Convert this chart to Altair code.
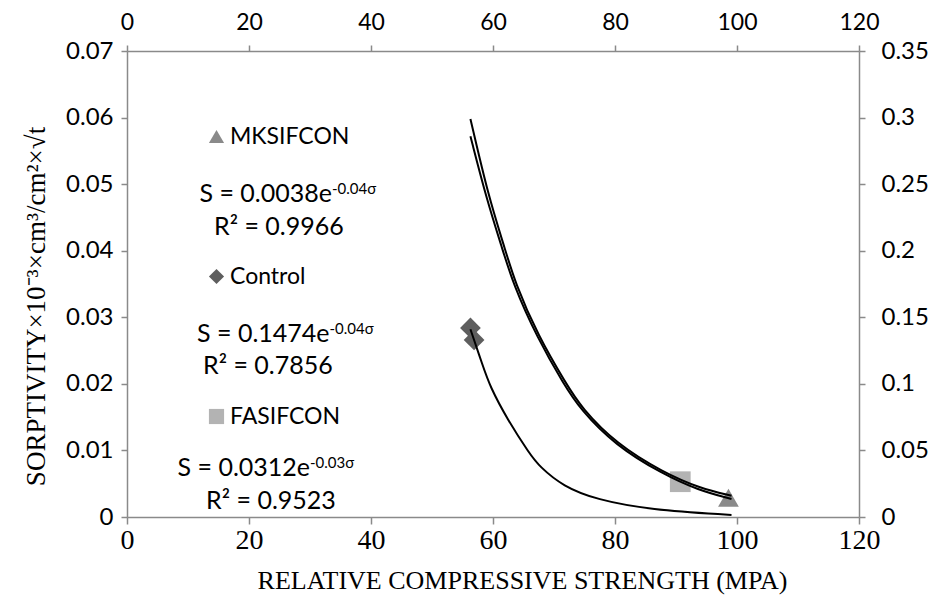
import altair as alt
import pandas as pd

# ---------------- data ----------------
series = ["MKSIFCON", "Control", "FASIFCON"]
series_colors = ["#8a8a8a", "#5e5e5e", "#b3b3b3"]
series_shapes = ["triangle-up", "diamond", "square"]

point_series = ["Control", "Control", "FASIFCON", "MKSIFCON"]
point_x = [56.3, 56.9, 90.7, 98.6]
point_y = [0.0284, 0.0266, 0.0053, 0.0029]

# fitted trend curves
curve1_x = [56.3, 59.3, 61.8, 63.6, 67.4, 72.0, 74.5, 80.2, 87.9, 94.0, 99.1]
curve1_y = [0.0598, 0.0480, 0.0408, 0.0352, 0.0272, 0.0200, 0.0164, 0.0110, 0.0067, 0.0043, 0.0032]
curve2_x = [56.3, 59.0, 61.5, 63.3, 67.2, 71.7, 74.3, 80.0, 87.7, 93.7, 99.1]
curve2_y = [0.0572, 0.0476, 0.0404, 0.0350, 0.0270, 0.0198, 0.0162, 0.0108, 0.0065, 0.0040, 0.0027]
curve3_x = [56.3, 58.3, 59.5, 62.4, 66.0, 67.6, 71.5, 77.0, 85.7, 99.1]
curve3_y = [0.0282, 0.0228, 0.0196, 0.0146, 0.0095, 0.0076, 0.0046, 0.0026, 0.0011, 0.0003]

# trendline equations
eq_main = ["S = 0.0038e", "S = 0.1474e", "S = 0.0312e"]
eq_sup = ["-0.04σ", "-0.04σ", "-0.03σ"]
r2_text = ["R² = 0.9966", "R² = 0.7856", "R² = 0.9523"]
eq_x = [33.6, 33.2, 30.0]
eq_y = [0.0485, 0.0275, 0.0074]
r2_x = [24.9, 23.1, 23.6]
r2_y = [0.0436, 0.0227, 0.0024]

x_ticks = [0, 20, 40, 60, 80, 100, 120]
y_ticks = [0, 0.01, 0.02, 0.03, 0.04, 0.05, 0.06, 0.07]
y2_ticks = [0, 0.05, 0.1, 0.15, 0.2, 0.25, 0.3, 0.35]

# ---------------- tables ----------------
pts = pd.DataFrame({"series": point_series, "x": point_x, "y": point_y})
curves = pd.concat([
    pd.DataFrame({"curve": "c1", "x": curve1_x, "y": curve1_y}),
    pd.DataFrame({"curve": "c2", "x": curve2_x, "y": curve2_y}),
    pd.DataFrame({"curve": "c3", "x": curve3_x, "y": curve3_y}),
])
eqs = pd.DataFrame({"main": eq_main, "sup": eq_sup, "x": eq_x, "y": eq_y})
r2s = pd.DataFrame({"t": r2_text, "x": r2_x, "y": r2_y})

W, H = 732, 466
AX = "#8a8a8a"
SANS = "Lato"
SERIF = "Liberation Serif"

x_scale = alt.Scale(domain=[0, 120], nice=False, zero=False)
y_scale = alt.Scale(domain=[0, 0.07], nice=False, zero=False)

x_axis = alt.Axis(values=x_ticks, title="RELATIVE COMPRESSIVE STRENGTH (MPA)",
                  labelFont=SERIF, labelFontSize=28, labelColor="black",
                  titleFont=SERIF, titleFontSize=26, titleFontWeight="normal", titleColor="black",
                  titleX=395,
                  domainColor=AX, domainWidth=1.5, tickColor=AX, tickWidth=1.5, tickSize=7,
                  labelPadding=2, titlePadding=13, grid=False, labelFlush=False, labelOverlap=False)
y_axis = alt.Axis(values=y_ticks, format=".2~f", title="SORPTIVITY×10⁻³×cm³/cm²×√t",
                  labelFont=SANS, labelFontSize=24, labelColor="black",
                  titleFont=SERIF, titleFontSize=27, titleFontWeight="normal", titleColor="black",
                  titleY=255,
                  domainColor=AX, domainWidth=1.5, tickColor=AX, tickWidth=1.5, tickSize=6,
                  labelPadding=8, titlePadding=15, grid=False, labelFlush=False, labelOverlap=False)

X = alt.X("x:Q", scale=x_scale, axis=x_axis)
Y = alt.Y("y:Q", scale=y_scale, axis=y_axis)

legend = alt.Legend(orient="none", legendX=78, legendY=74, title=None, direction="vertical",
                    labelFont=SANS, labelFontSize=23, labelColor="black", symbolSize=230,
                    symbolStrokeWidth=0, symbolOpacity=1, rowPadding=116, labelOffset=2,
                    padding=0)

points = alt.Chart(pts).mark_point(filled=True, opacity=1, size=430).encode(
    x=X, y=Y,
    color=alt.Color("series:N", scale=alt.Scale(domain=series, range=series_colors), legend=legend),
    shape=alt.Shape("series:N", scale=alt.Scale(domain=series, range=series_shapes), legend=legend),
)

lines = alt.Chart(curves).mark_line(color="black", strokeWidth=2, interpolate="basis").encode(
    x=X, y=Y, detail="curve:N")

eq_text = alt.Chart(eqs).mark_text(align="right", baseline="middle", font=SANS, fontSize=25,
                                   color="black").encode(x=X, y=Y, text="main:N")
sup_text = alt.Chart(eqs).mark_text(align="left", baseline="middle", font=SANS, fontSize=15,
                                    dy=-5, color="black").encode(x=X, y=Y, text="sup:N")
r2_layer = alt.Chart(r2s).mark_text(align="center", baseline="middle", font=SANS, fontSize=25,
                                    color="black").encode(x=X, y=Y, text="t:N")

main = alt.layer(points, lines, eq_text, sup_text, r2_layer)

sec = pd.DataFrame({"x": [0, 120], "y": [0, 0.35]})
axes2 = alt.Chart(sec).mark_point(opacity=0).encode(
    x=alt.X("x:Q", scale=alt.Scale(domain=[0, 120], nice=False, zero=False),
            axis=alt.Axis(orient="top", values=x_ticks, title=None, labelFont=SANS, labelFontSize=23,
                          labelColor="black", domainColor=AX, domainWidth=1.5, tickColor=AX,
                          tickWidth=1.5, tickSize=6, labelPadding=11, grid=False,
                          labelFlush=False, labelOverlap=False)),
    y=alt.Y("y:Q", scale=alt.Scale(domain=[0, 0.35], nice=False, zero=False),
            axis=alt.Axis(orient="right", values=y2_ticks, format=".2~f", title=None,
                          labelFont=SANS, labelFontSize=24, labelColor="black", domainColor=AX,
                          domainWidth=1.5, tickColor=AX, tickWidth=1.5, tickSize=6,
                          labelPadding=16, grid=False, labelFlush=False, labelOverlap=False)),
)

chart = alt.layer(main, axes2).resolve_scale(x="independent", y="independent").properties(
    width=W, height=H,
    autosize=alt.AutoSizeParams(type="none"),
    padding={"left": 119, "top": 43, "right": 69, "bottom": 82},
).configure_view(stroke=None).configure(background="white")

chart.save("out.html", embed_options={"renderer": "svg", "actions": False})
